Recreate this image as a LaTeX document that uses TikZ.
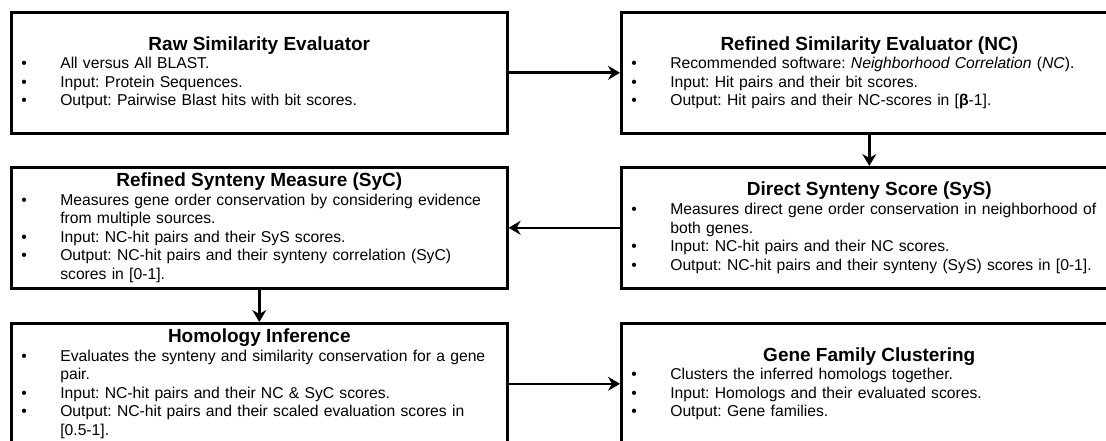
\documentclass[tikz,border=0pt]{standalone}
\usepackage{fontspec}
\setmainfont{Liberation Sans}
\usetikzlibrary{arrows.meta, positioning}

\frenchspacing
\newcommand{\blktitle}[1]{{\centering\fontsize{19}{22}\selectfont\bfseries #1\par}}
\newcommand{\blkitem}[1]{\noindent\hangindent=39pt\hangafter=1\makebox[39pt][l]{\textbullet}#1\par}

\begin{document}
\begin{tikzpicture}[
  x=1pt, y=-1pt,
  blk/.style={draw, line width=2.6pt, anchor=north west, minimum width=496pt, minimum height=121pt,
    text width=476pt, inner xsep=10pt, align=left, font=\fontsize{15.7}{18.6}\selectfont},
  flow/.style={-{Stealth[length=12pt, width=14pt, inset=4pt]}, line width=2.6pt}
]
\useasboundingbox (0,0) rectangle (1106,441);

\node[blk] (raw) at (10,11) {\blktitle{Raw Similarity Evaluator}
  \blkitem{All versus All BLAST.}
  \blkitem{Input: Protein Sequences.}
  \blkitem{Output: Pairwise Blast hits with bit scores.}};
\node[blk] (nc) at (620,11) {\blktitle{Refined Similarity Evaluator (NC)}
  \blkitem{Recommended software: \textit{Neighborhood Correlation} (\textit{NC}).}
  \blkitem{Input: Hit pairs and their bit scores.}
  \blkitem{Output: Hit pairs and their NC-scores in [\textbf{β}-1].}};

\node[blk] (syc) at (10,166) {\blktitle{Refined Synteny Measure (SyC)}
  \blkitem{\mbox{Measures gene order conservation by considering evidence}\newline\mbox{from multiple sources.}}
  \blkitem{Input: NC-hit pairs and their SyS scores.}
  \blkitem{\mbox{Output: NC-hit pairs and their synteny correlation (SyC)}\newline\mbox{scores in [0-1].}}};
\node[blk] (sys) at (620,166) {\blktitle{Direct Synteny Score (SyS)}
  \blkitem{\mbox{Measures direct gene order conservation in neighborhood of}\newline\mbox{both genes.}}
  \blkitem{Input: NC-hit pairs and their NC scores.}
  \blkitem{Output: NC-hit pairs and their synteny (SyS) scores in [0-1].}};

\node[blk] (hom) at (10,322) {\blktitle{Homology Inference}
  \blkitem{\mbox{Evaluates the synteny and similarity conservation for a gene}\newline\mbox{pair.}}
  \blkitem{Input: NC-hit pairs and their NC \& SyC scores.}
  \blkitem{\mbox{Output: NC-hit pairs and their scaled evaluation scores in}\newline\mbox{[0.5-1].}}};
\node[blk] (gfc) at (620,322) {\blktitle{Gene Family Clustering}
  \blkitem{Clusters the inferred homologs together.}
  \blkitem{Input: Homologs and their evaluated scores.}
  \blkitem{Output: Gene families.}};

\draw[flow] (raw) -- (nc);
\draw[flow] (nc) -- (sys);
\draw[flow] (sys) -- (syc);
\draw[flow] (syc) -- (hom);
\draw[flow] (hom) -- (gfc);
\end{tikzpicture}
\end{document}
